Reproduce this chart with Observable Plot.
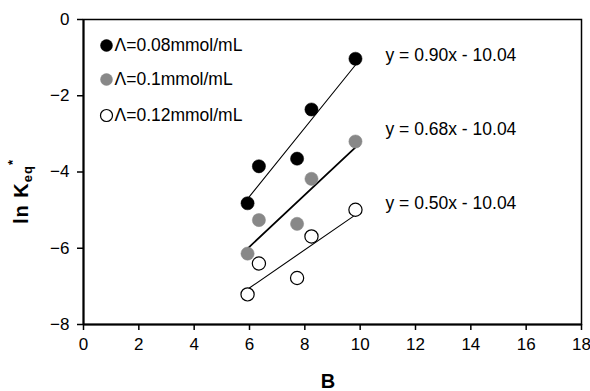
<!DOCTYPE html>
<html>
<head>
<meta charset="utf-8">
<script src="https://cdn.jsdelivr.net/npm/d3@7"></script>
<script src="https://cdn.jsdelivr.net/npm/@observablehq/plot@0.6"></script>
<style>
  html, body { margin: 0; padding: 0; background: #fff; }
  svg { font-family: "Liberation Sans", Arial, sans-serif; }
</style>
</head>
<body>
<div id="chart"></div>
<script>
// ---- data ----
const B = [5.93, 6.34, 7.72, 8.24, 9.83];
const lnK_008 = [-4.82, -3.85, -3.65, -2.36, -1.03];
const lnK_010 = [-6.14, -5.26, -5.36, -4.18, -3.20];
const lnK_012 = [-7.21, -6.40, -6.78, -5.69, -4.99];
const seriesLabels = ["Λ=0.08mmol/mL", "Λ=0.1mmol/mL", "Λ=0.12mmol/mL"];
const slopes = [0.90, 0.68, 0.50];
const intercepts = [-10.04, -10.04, -10.04];
const equationLabels = ["y = 0.90x - 10.04", "y = 0.68x - 10.04", "y = 0.50x - 10.04"];
const xTicks = [0, 2, 4, 6, 8, 10, 12, 14, 16, 18];
const yTicks = [0, -2, -4, -6, -8];

// ---- styles ----
const fills = ["#000", "#888", "#fff"];
const strokes = ["#000", "#888", "#000"];
const lineWidths = [1.1, 1.8, 1.1];
const legendDy = [26, 60, 96];
const eqDy = [36, 110, 184];

const seriesY = [lnK_008, lnK_010, lnK_012];
const points = seriesY.flatMap((ys, s) => ys.map((y, i) => ({s, x: B[i], y})));
const xmin = d3.min(B), xmax = d3.max(B);
const fits = slopes.flatMap((m, s) => [
  {s, x: xmin, y: m * xmin + intercepts[s]},
  {s, x: xmax, y: m * xmax + intercepts[s]}
]);

const marks = [
  Plot.frame({stroke: "#000", strokeWidth: 1.5}),
  Plot.ruleX([0], {stroke: "#000", strokeWidth: 2}),
  Plot.ruleY([-8], {stroke: "#000", strokeWidth: 2}),
  Plot.axisX({ticks: xTicks, tickSize: 6, tickPadding: 7, label: null, fontSize: 17, strokeWidth: 1.5}),
  Plot.axisY({ticks: yTicks, tickSize: 6, tickPadding: 8, label: null, fontSize: 17, strokeWidth: 1.5})
];
for (let s = 0; s < 3; s++) {
  marks.push(Plot.line(fits.filter(d => d.s === s), {x: "x", y: "y", stroke: "#000", strokeWidth: lineWidths[s]}));
}
for (let s = 0; s < 3; s++) {
  marks.push(Plot.dot(points.filter(d => d.s === s), {x: "x", y: "y", r: 6.6, fill: fills[s], stroke: strokes[s], strokeWidth: s === 2 ? 1.2 : 0.5}));
  // legend
  marks.push(Plot.dot([seriesLabels[s]], {frameAnchor: "top-left", dx: 23, dy: legendDy[s], r: 6, fill: fills[s], stroke: strokes[s], strokeWidth: s === 2 ? 1.2 : 0.5}));
  marks.push(Plot.text([seriesLabels[s]], {text: d => d, frameAnchor: "top-left", lineAnchor: "middle", dx: 31, dy: legendDy[s], textAnchor: "start", fontSize: 17.5, fill: "#000"}));
  // equations
  marks.push(Plot.text([equationLabels[s]], {text: d => d, frameAnchor: "top-left", lineAnchor: "middle", dx: 302, dy: eqDy[s], textAnchor: "start", fontSize: 17.5, fill: "#000"}));
}

const chart = Plot.plot({
  width: 590,
  height: 391,
  marginLeft: 83,
  marginRight: 9,
  marginTop: 19,
  marginBottom: 67,
  style: {fontFamily: "Liberation Sans, Arial, sans-serif", fontSize: "17px", background: "#fff", color: "#000", overflow: "visible"},
  x: {domain: [0, 18]},
  y: {domain: [-8, 0]},
  marks
});
document.getElementById("chart").appendChild(chart);

// axis titles (bold, with sub/superscript)
const svg = d3.select(chart);
svg.append("text")
  .attr("x", 328).attr("y", 388)
  .attr("text-anchor", "middle")
  .attr("font-weight", "bold").attr("font-size", 20)
  .attr("font-family", "Liberation Sans, Arial, sans-serif")
  .text("B");
const yl = svg.append("text")
  .attr("transform", "translate(28,224) rotate(-90)")
  .attr("text-anchor", "start")
  .attr("font-weight", "bold").attr("font-size", 20)
  .attr("letter-spacing", 1)
  .attr("font-family", "Liberation Sans, Arial, sans-serif");
yl.append("tspan").text("ln K");
yl.append("tspan").attr("font-size", 13).attr("dy", 4).text("eq");
yl.append("tspan").attr("font-size", 13).attr("dy", -15).text("*");
</script>
</body>
</html>
